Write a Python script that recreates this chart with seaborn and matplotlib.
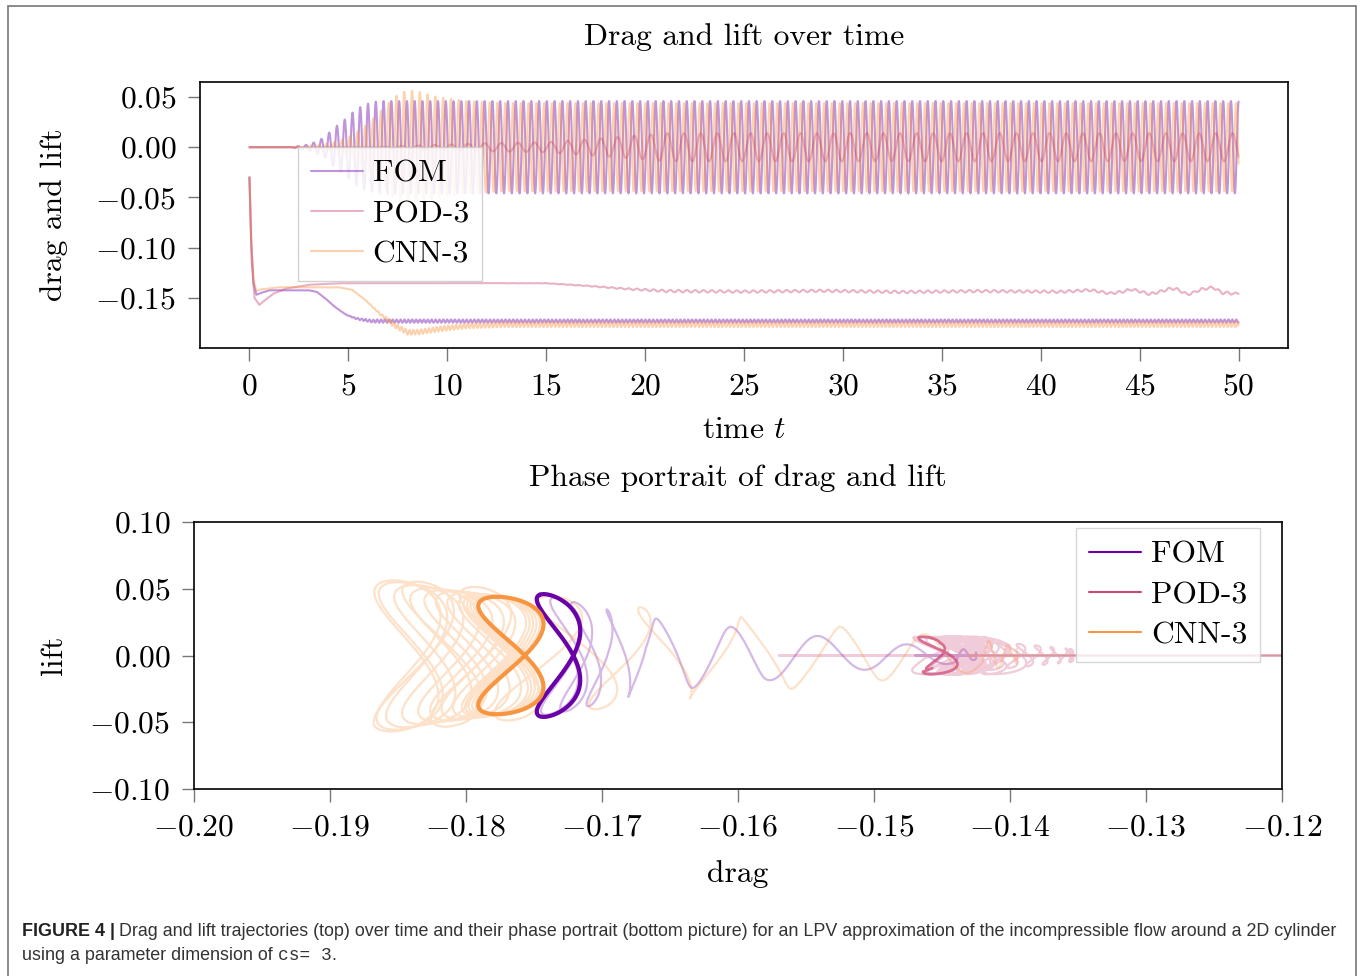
import numpy as np
import pandas as pd
import matplotlib
matplotlib.use("Agg")
import matplotlib.pyplot as plt
import seaborn as sns
from matplotlib.lines import Line2D
from matplotlib.patches import Rectangle

# ---------------------------------------------------------------------------
# Data
# ---------------------------------------------------------------------------
MODELS = ["FOM", "POD-3", "CNN-3"]
COLORS = ["#6a00a8", "#cc4778", "#f89540"]

T_END = 50.0
N_SAMPLES = 12501

# lift oscillation period (time units) and phase (rad)
LIFT_PERIOD = [0.393, 0.84, 0.393]
LIFT_PHASE = [0.0, 0.6, 2.1]
# drag oscillates at twice the lift frequency (figure-eight in the phase plane)
DRAG_OSC_AMP = [0.0016, 0.0012, 0.0024]
DRAG_OSC_PHASE = [0.82, 1.0, 1.13]
DRAG_OSC_POWER = [4, 2, 4]

# mean drag (knots: time, value)
FOM_DRAG_T = [0, 0.08, 0.2, 0.35, 0.6, 1.0, 3.0, 3.4, 3.8, 4.25, 4.6, 4.9, 5.3, 5.6, 6.2, 50]
FOM_DRAG_V = [-0.03, -0.09, -0.135, -0.147, -0.145, -0.1425, -0.1425, -0.144, -0.150,
              -0.158, -0.163, -0.167, -0.170, -0.1715, -0.1732, -0.1732]
POD_DRAG_T = [0, 0.1, 0.25, 0.5, 0.8, 1.2, 1.8, 3.0, 4.5, 15, 17, 19, 21, 25, 29, 33, 37,
              41, 42.5, 43.5, 44.1, 44.6, 45.1, 45.5, 45.9, 46.6, 46.9, 47.4, 47.7, 48.1,
              48.7, 49.2, 49.5, 49.8, 50]
POD_DRAG_V = [-0.03, -0.11, -0.150, -0.157, -0.152, -0.146, -0.141, -0.137, -0.1355,
              -0.1355, -0.138, -0.141, -0.1432, -0.1438, -0.1430, -0.1442, -0.1433,
              -0.1440, -0.1423, -0.1456, -0.1440, -0.1416, -0.1440, -0.1463, -0.1446,
              -0.1406, -0.1415, -0.1466, -0.1450, -0.1416, -0.1396, -0.1452, -0.1450,
              -0.1462, -0.1452]
CNN_DRAG_T = [0, 0.08, 0.2, 0.35, 0.6, 1.5, 4.5, 5.2, 5.9, 6.6, 7.3, 8.0, 8.6, 9.6, 11, 13, 50]
CNN_DRAG_V = [-0.03, -0.09, -0.132, -0.143, -0.1415, -0.1395, -0.1395, -0.142, -0.153,
              -0.166, -0.177, -0.1845, -0.184, -0.181, -0.178, -0.1767, -0.1767]

# lift amplitude envelope (knots: time, amplitude)
FOM_LIFT_T = [0, 2.0, 2.8, 3.3, 3.8, 4.25, 4.6, 4.9, 5.4, 5.9, 6.5, 50]
FOM_LIFT_A = [0, 0, 0.002, 0.005, 0.010, 0.019, 0.024, 0.029, 0.038, 0.043, 0.046, 0.046]
POD_LIFT_T = [0, 6, 9, 12, 15, 18, 21, 50]
POD_LIFT_A = [0, 0, 0.002, 0.004, 0.005, 0.009, 0.014, 0.014]
CNN_LIFT_T = [0, 2.5, 3.5, 4.5, 5.2, 5.9, 6.6, 7.3, 8.0, 8.6, 9.5, 11, 13, 50]
CNN_LIFT_A = [0, 0, 0.002, 0.006, 0.012, 0.022, 0.035, 0.050, 0.057, 0.055, 0.050, 0.046,
              0.044, 0.044]

TOP_XTICKS = [0, 5, 10, 15, 20, 25, 30, 35, 40, 45, 50]
TOP_YTICKS = [0.05, 0.0, -0.05, -0.10, -0.15]
BOT_XTICKS = [-0.20, -0.19, -0.18, -0.17, -0.16, -0.15, -0.14, -0.13, -0.12]
BOT_YTICKS = [0.10, 0.05, 0.0, -0.05, -0.10]

# ---------------------------------------------------------------------------
# Build trajectories
# ---------------------------------------------------------------------------
t = np.linspace(0.0, T_END, N_SAMPLES)
drag_knots = [(FOM_DRAG_T, FOM_DRAG_V), (POD_DRAG_T, POD_DRAG_V), (CNN_DRAG_T, CNN_DRAG_V)]
lift_knots = [(FOM_LIFT_T, FOM_LIFT_A), (POD_LIFT_T, POD_LIFT_A), (CNN_LIFT_T, CNN_LIFT_A)]

frames = []
for i, name in enumerate(MODELS):
    mean = np.interp(t, *drag_knots[i])
    amp = np.interp(t, *lift_knots[i])
    theta = 2 * np.pi * t / LIFT_PERIOD[i] + LIFT_PHASE[i]
    lift = amp * np.sin(theta)
    rel = np.minimum(amp / lift_knots[i][1][-1], 1.0)
    drag = mean + DRAG_OSC_AMP[i] * rel ** DRAG_OSC_POWER[i] * np.cos(2 * theta + DRAG_OSC_PHASE[i])
    frames.append(pd.DataFrame({"t": t, "drag": drag, "lift": lift, "model": name}))
data = pd.concat(frames, ignore_index=True)

# ---------------------------------------------------------------------------
# Style
# ---------------------------------------------------------------------------
sns.set_theme(style="white")
FS = 22.7
plt.rcParams.update({
    "font.family": ["cmr10", "DejaVu Serif"],
    "mathtext.fontset": "cm",
    "axes.formatter.use_mathtext": True,
    "axes.unicode_minus": True,
    "font.size": FS,
    "axes.edgecolor": "black",
    "axes.linewidth": 1.2,
    "xtick.color": "#777777",
    "ytick.color": "#777777",
    "xtick.labelcolor": "black",
    "ytick.labelcolor": "black",
    "xtick.direction": "out",
    "ytick.direction": "out",
    "xtick.major.size": 9,
    "ytick.major.size": 9,
    "xtick.major.width": 1.0,
    "ytick.major.width": 1.0,
    "xtick.major.pad": 9,
    "ytick.major.pad": 8,
    "xtick.bottom": True,
    "ytick.left": True,
    "axes.grid": False,
    "text.color": "black",
    "axes.labelcolor": "black",
})

W, H = 1360, 976
fig = plt.figure(figsize=(W / 100, H / 100), dpi=100)
fig.patch.set_facecolor("white")

def fx(px):
    return px / W

def fy(py):
    return 1 - py / H

ax1 = fig.add_axes([fx(200), fy(348), fx(1088), 266 / H])
ax2 = fig.add_axes([fx(194), fy(789), fx(1088), 267 / H])

LEG_KW = dict(borderaxespad=0, fontsize=FS, frameon=True, fancybox=False,
              edgecolor="#cccccc", handlelength=1.65, handletextpad=0.32,
              labelspacing=0.39, borderpad=0.4)

# ---------------------------- top: time series -----------------------------
for name, col in zip(MODELS, COLORS):
    d = data[data["model"] == name]
    sns.lineplot(x=d["t"].values, y=d["drag"].values, ax=ax1, color=col, alpha=0.42,
                 linewidth=1.5, estimator=None, sort=False, legend=False)
    sns.lineplot(x=d["t"].values, y=d["lift"].values, ax=ax1, color=col, alpha=0.42,
                 linewidth=1.5, estimator=None, sort=False, legend=False)

ax1.set_xlim(-2.5, 52.5)
ax1.set_ylim(-0.2, 0.065)
ax1.set_xticks(TOP_XTICKS)
ax1.set_yticks(TOP_YTICKS)
ax1.tick_params(labelsize=FS)
ax1.set_title("Drag and lift over time", fontsize=FS, pad=26.5)
ax1.set_xlabel("time $t$", fontsize=FS)
ax1.set_ylabel("drag and lift", fontsize=FS)
ax1.xaxis.set_label_coords(0.5, -0.256)
ax1.yaxis.set_label_coords(-0.1216, 0.5)

h_top = [Line2D([0], [0], color=c, alpha=0.42, lw=1.5) for c in COLORS]
ax1.legend(h_top, MODELS, loc="upper left", bbox_to_anchor=(0.0901, 0.7556),
           framealpha=0.85, **LEG_KW)

# --------------------------- bottom: phase plot ----------------------------
for name, col in zip(MODELS, COLORS):
    d = data[data["model"] == name]
    sns.lineplot(x=d["drag"].values, y=d["lift"].values, ax=ax2, color=col, alpha=0.28,
                 linewidth=1.6, estimator=None, sort=False, legend=False)
for i, (name, col) in enumerate(zip(MODELS, COLORS)):
    d = data[(data["model"] == name) & (data["t"] >= T_END - LIFT_PERIOD[i])]
    sns.lineplot(x=d["drag"].values, y=d["lift"].values, ax=ax2, color=col,
                 alpha=1.0 if name != "POD-3" else 0.7,
                 linewidth=3.0 if name != "POD-3" else 2.0,
                 estimator=None, sort=False, legend=False)

ax2.set_xlim(-0.2, -0.12)
ax2.set_ylim(-0.1, 0.1)
ax2.set_xticks(BOT_XTICKS)
ax2.set_yticks(BOT_YTICKS)
ax2.tick_params(labelsize=FS)
ax2.set_title("Phase portrait of drag and lift", fontsize=FS, pad=26)
ax2.set_xlabel("drag", fontsize=FS)
ax2.set_ylabel("lift", fontsize=FS)
ax2.xaxis.set_label_coords(0.5, -0.266)
ax2.yaxis.set_label_coords(-0.116, 0.5)

h_bot = [Line2D([0], [0], color=c, lw=1.5) for c in COLORS]
ax2.legend(h_bot, MODELS, loc="upper right", bbox_to_anchor=(0.9798, 0.9775),
           framealpha=0.8, **LEG_KW)

# ------------------------------ frame + caption ----------------------------
fig.patches.append(Rectangle((fx(8), fy(990)), fx(1348), 984 / H, transform=fig.transFigure,
                             fill=False, edgecolor="#777777", linewidth=1.2, clip_on=False))

CAP_FS = 12.9
r = fig.canvas.get_renderer()
y1, y2 = fy(931), fy(956)
tb = fig.text(fx(22), y1, "FIGURE 4 |", fontsize=CAP_FS, fontweight="bold",
              family="Liberation Sans", va="center", ha="left", color="#222222")
bb = tb.get_window_extent(r)
fig.text((bb.x1 + 4) / W, y1,
         "Drag and lift trajectories (top) over time and their phase portrait (bottom picture) "
         "for an LPV approximation of the incompressible flow around a 2D cylinder",
         fontsize=CAP_FS, family="Liberation Sans", va="center", ha="left", color="#333333")
t2 = fig.text(fx(22), y2, "using a parameter dimension of ", fontsize=CAP_FS,
              family="Liberation Sans", va="center", ha="left", color="#333333")
bb2 = t2.get_window_extent(r)
t3 = fig.text(bb2.x1 / W, y2, "cs= 3", fontsize=CAP_FS, family="Liberation Mono",
              va="center", ha="left", color="#333333")
bb3 = t3.get_window_extent(r)
fig.text(bb3.x1 / W, y2, ".", fontsize=CAP_FS, family="Liberation Sans",
         va="center", ha="left", color="#333333")

fig.savefig("out.png", dpi=100, facecolor="white")
